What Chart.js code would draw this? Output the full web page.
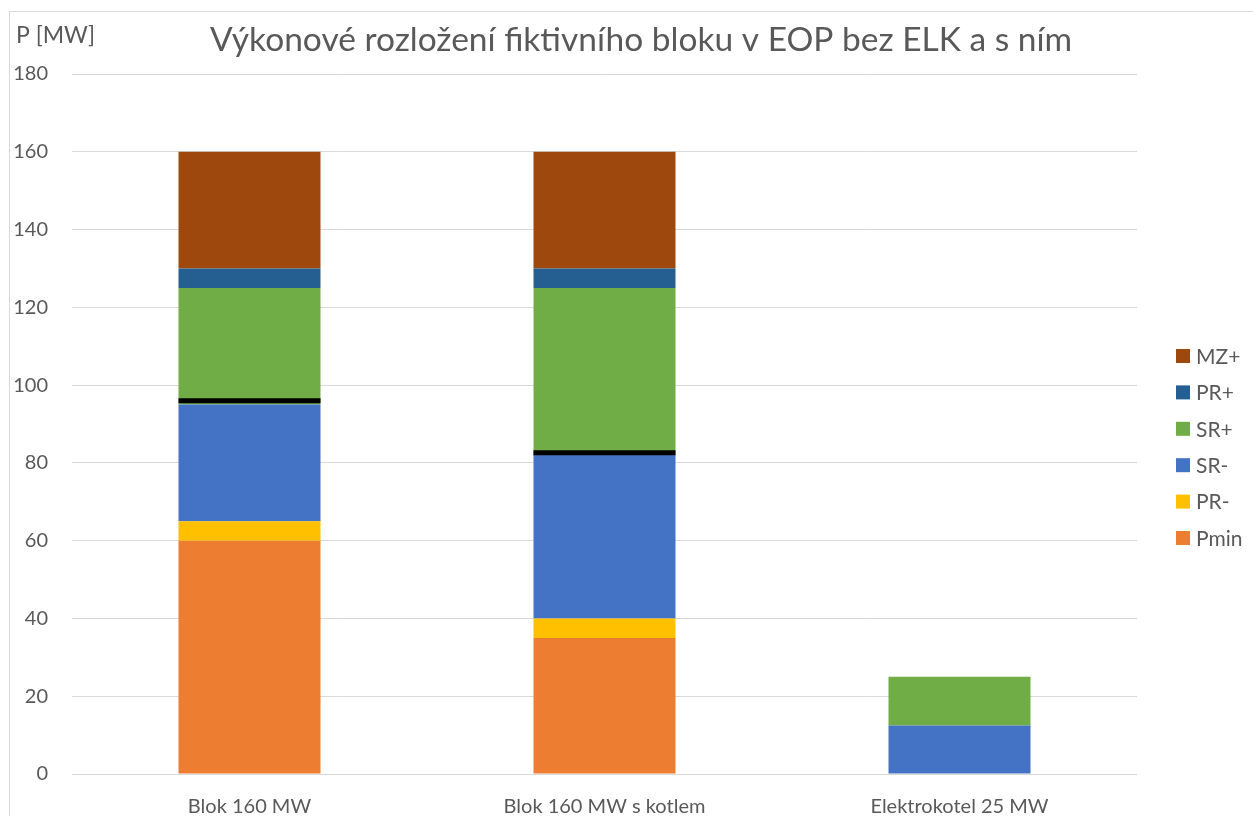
<!DOCTYPE html>
<html>
<head>
<meta charset="utf-8">
<script src="https://cdn.jsdelivr.net/npm/chart.js@4"></script>
<style>
  html, body { margin: 0; background: #fff; overflow: hidden; }
  #frame { position: absolute; left: 9px; top: 11px; width: 1300px; height: 900px; border: 1px solid #d9d9d9; }
  #box { position: absolute; left: 0; top: 0; width: 1253px; height: 816px; }
</style>
</head>
<body>
<div id="frame"></div>
<div id="box"><canvas id="chart"></canvas></div>
<script>
// Výkonové rozložení bloku
const categories = ['Blok 160 MW', 'Blok 160 MW s kotlem', 'Elektrokotel 25 MW'];
const pmin = [60, 35, 0];
const prMinus = [5, 5, 0];
const srMinus = [30, 42.5, 12.5];
const srPlus = [30, 42.5, 12.5];
const prPlus = [5, 5, 0];
const mzPlus = [30, 30, 0];
const workPoint = [96, 82.6, null];
const yTicks = [0, 20, 40, 60, 80, 100, 120, 140, 160, 180];

const title = 'Výkonové rozložení fiktivního bloku v EOP bez ELK a s ním';
const grey = '#595959';
const font = 'Lato, "Liberation Sans", sans-serif';

// nadpis, popisek osy Y a legenda vpravo
const extras = {
  id: 'extras',
  afterDraw(chart) {
    const c = chart.ctx;
    c.save();
    c.fillStyle = grey;
    c.textBaseline = 'middle';

    c.font = '33.5px ' + font;
    c.textAlign = 'center';
    c.fillText(title, 641, 40);

    c.textAlign = 'left';
    c.font = '23px ' + font;
    c.fillText('P [MW]', 16, 36);

    c.font = '21px ' + font;
    const items = chart.data.datasets.filter(d => !d.hideInLegend).slice().reverse();
    items.forEach((d, i) => {
      const y = 356 + i * 36.4;
      c.fillStyle = d.backgroundColor;
      c.fillRect(1176, y - 7, 14, 14);
      c.fillStyle = grey;
      c.fillText(d.label, 1196, y + 1);
    });
    c.restore();
  }
};

const bar = (label, data, color) => ({ label, data, backgroundColor: color, borderWidth: 0 });

new Chart(document.getElementById('chart').getContext('2d'), {
  type: 'bar',
  data: {
    labels: categories,
    datasets: [
      bar('Pmin', pmin, '#ED7D31'),
      bar('PR-', prMinus, '#FFC000'),
      bar('SR-', srMinus, '#4472C4'),
      bar('SR+', srPlus, '#70AD47'),
      bar('PR+', prPlus, '#255E91'),
      bar('MZ+', mzPlus, '#9E480E'),
      {
        type: 'line',
        label: 'bod',
        hideInLegend: true,
        order: -1,
        data: workPoint,
        showLine: false,
        pointStyle: 'line',
        pointRadius: 71,
        pointHoverRadius: 71,
        pointBorderWidth: 5,
        pointBorderColor: '#000',
        borderColor: '#000',
        backgroundColor: '#000'
      }
    ]
  },
  options: {
    responsive: true,
    maintainAspectRatio: false,
    animation: false,
    layout: { autoPadding: false, padding: { left: 0, right: 116, top: 74, bottom: 0 } },
    datasets: { bar: { barPercentage: 1, categoryPercentage: 0.4 } },
    plugins: {
      legend: { display: false },
      tooltip: { enabled: false }
    },
    scales: {
      x: {
        stacked: true,
        afterFit: axis => { axis.height = 42; },
        grid: { display: false },
        border: { display: false },
        ticks: { color: grey, font: { family: font, size: 20 }, padding: 13, maxRotation: 0 }
      },
      y: {
        stacked: true,
        min: 0,
        max: 180,
        afterBuildTicks: axis => { axis.ticks = yTicks.map(v => ({ value: v })); },
        afterFit: axis => { axis.width = 72; },
        grid: { color: '#d9d9d9', drawTicks: false },
        border: { display: false },
        ticks: { color: grey, font: { family: font, size: 20 }, padding: 24 }
      }
    }
  },
  plugins: [extras]
});
</script>
</body>
</html>
